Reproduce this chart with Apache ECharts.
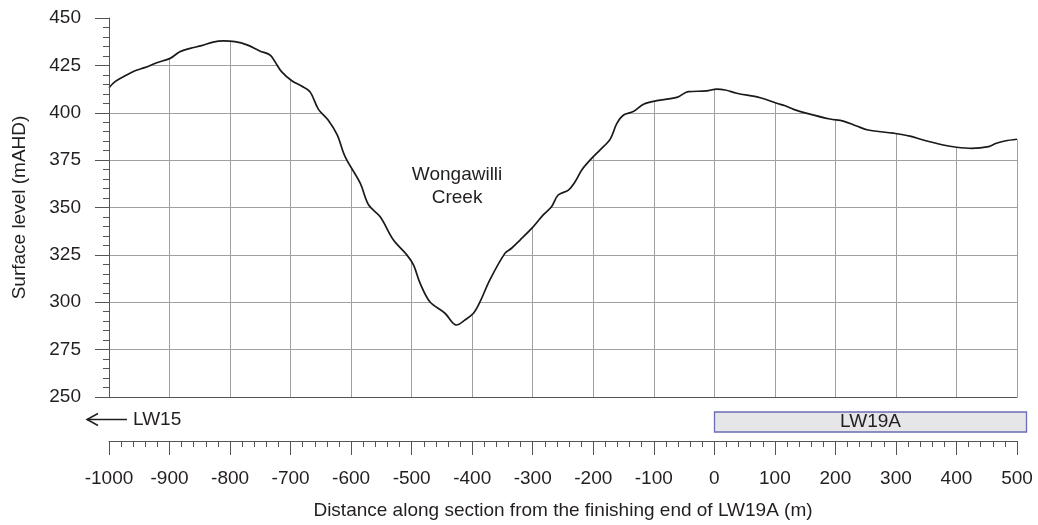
<!DOCTYPE html>
<html><head><meta charset="utf-8">
<script src="https://cdn.jsdelivr.net/npm/echarts@6/dist/echarts.min.js"></script>
<style>html,body{margin:0;padding:0;background:#fff}#c{width:1038px;height:525px}</style>
</head><body><div id="c"></div>
<script>
// Section distance (m) and surface level (mAHD)
const distance = [-1000,-990,-974,-957,-941,-921,-899,-883,-866,-847,-828,-811,-792,-772,-751,-734,-726,-715,-698,-682,-668,-654,-638,-623,-610,-585,-571,-552,-530,-508,-497,-486,-470,-445,-426,-412,-398,-387,-371,-346,-335,-321,-299,-283,-269,-258,-241,-230,-219,-205,-189,-172,-161,-150,-134,-117,-95,-62,-43,-13,4,18,37,76,103,117,131,153,191,213,235,254,296,323,345,378,400,425,453,466,480,500];
const elevation = [413.2,416.4,419.4,422.2,423.8,426.4,428.7,432.2,434,435.4,437.3,437.9,437.5,435.8,432.6,430.5,427,421.7,416.9,414.1,411.1,401.8,396.2,388.3,376.8,362.8,351.3,345.1,332.8,325,319.7,310,300.3,294.2,288,290.6,294.2,300.3,311.7,325.8,328.5,332.8,339.9,346,350.4,356.6,359.2,363.6,369.8,375.1,380.3,386.1,394.4,398.8,400.6,404.5,406.4,408.1,411.1,411.5,412.5,412,410.3,407.9,405,403.7,401.8,399.7,396.7,395.6,393,390.9,389.2,387.7,385.6,383,381.8,381.2,382.1,383.9,385.1,386];
const xRange = [-1000, 500];
const xStep = 100;
const yRange = [250, 450];
const yStep = 25;
const panelLabel = ['LW19A', 0, 515];   // name, start, end (m)
const leftLabel = 'LW15';
const creekLabel = ['Wongawilli\nCreek', -425, 361];

const FONT = "'Liberation Sans', Arial, Helvetica, sans-serif";
const FS = 19;
const TXT = '#231f20';
const GRID = '#a0a0a0';
const AX = '#555';

const chart = echarts.init(document.getElementById('c'));
const pts = distance.map((d, i) => [d, elevation[i]]);
const lastPt = pts[pts.length - 1];

chart.setOption({
  animation: false,
  backgroundColor: '#fff',
  textStyle: { fontFamily: FONT },
  grid: [
    { left: 109, right: 21, top: 18, height: 379 },
    { left: 109, right: 21, top: 440, height: 1 }
  ],
  xAxis: [
    { type: 'value', gridIndex: 0, min: xRange[0], max: xRange[1], interval: xStep,
      axisLine: { show: true, lineStyle: { color: AX, width: 1 } },
      axisTick: { show: false }, axisLabel: { show: false },
      splitLine: { show: true, showMaxLine: false, lineStyle: { color: GRID, width: 1 } } },
    { type: 'value', gridIndex: 1, min: xRange[0], max: xRange[1], interval: xStep, position: 'bottom',
      axisLine: { show: true, lineStyle: { color: AX, width: 1 } },
      axisTick: { show: true, length: 14, lineStyle: { color: AX } },
      minorTick: { show: true, splitNumber: 5, length: 6, lineStyle: { color: AX } },
      axisLabel: { margin: 28, fontSize: FS, color: TXT, fontFamily: FONT, formatter: v => String(v) },
      splitLine: { show: false },
      name: 'Distance along section from the finishing end of LW19A (m)',
      nameLocation: 'middle', nameGap: 60,
      nameTextStyle: { fontSize: FS, color: TXT, fontFamily: FONT } }
  ],
  yAxis: [
    { type: 'value', gridIndex: 0, min: yRange[0], max: yRange[1], interval: yStep,
      axisLine: { show: false }, axisTick: { show: false }, axisLabel: { show: false },
      splitLine: { show: true, showMaxLine: false, lineStyle: { color: GRID, width: 1 } } },
    { type: 'value', gridIndex: 0, min: yRange[0], max: yRange[1], interval: yStep, position: 'left', z: 10,
      axisLine: { show: true, lineStyle: { color: AX, width: 1 } },
      axisTick: { show: true, length: 14, lineStyle: { color: AX } },
      minorTick: { show: true, splitNumber: 5, length: 6, lineStyle: { color: AX } },
      axisLabel: { margin: 28, fontSize: FS, color: TXT, fontFamily: FONT },
      splitLine: { show: false },
      name: 'Surface level (mAHD)', nameLocation: 'middle', nameGap: 80, nameRotate: 90,
      nameTextStyle: { fontSize: FS, color: TXT, fontFamily: FONT } },
    { type: 'value', gridIndex: 1, min: 0, max: 1, show: false }
  ],
  series: [
    { type: 'line', xAxisIndex: 0, yAxisIndex: 0, data: pts, showSymbol: false, smooth: 0.35,
      lineStyle: { color: '#1a1a1a', width: 1.7 },
      areaStyle: { color: '#ffffff', opacity: 1, origin: 'end' },
      z: 3, silent: true,
      markLine: { silent: true, symbol: 'none', label: { show: false }, z: 1,
        lineStyle: { color: GRID, width: 1, type: 'solid' },
        data: [[{ coord: [xRange[1], yRange[0]] }, { coord: [xRange[1], lastPt[1]] }]] } }
  ]
});

function place() {
  const xl = Math.round(chart.convertToPixel({ xAxisIndex: 1 }, panelLabel[1])) + 0.5;
  const xr = Math.round(chart.convertToPixel({ xAxisIndex: 1 }, panelLabel[2])) + 0.5;
  const c = chart.convertToPixel({ xAxisIndex: 0, yAxisIndex: 0 }, [creekLabel[1], creekLabel[2]]);
  const x0 = chart.convertToPixel({ xAxisIndex: 0 }, xRange[0]);
  const ay = 419.5;
  chart.setOption({
    graphic: [
      { type: 'rect', z: 20, shape: { x: xl, y: 412, width: xr - xl, height: 20 },
        style: { fill: '#e6e6e8', stroke: '#6b6bb8', lineWidth: 1.3 } },
      { type: 'text', z: 21, x: (xl + xr) / 2, y: 422,
        style: { text: panelLabel[0], fill: TXT, font: FS + 'px ' + FONT, textAlign: 'center', textVerticalAlign: 'middle' } },
      { type: 'line', z: 20, shape: { x1: x0 - 22, y1: ay, x2: x0 + 18, y2: ay },
        style: { stroke: '#231f20', lineWidth: 1.5 } },
      { type: 'polyline', z: 20, shape: { points: [[x0 - 11, ay - 6], [x0 - 22, ay], [x0 - 11, ay + 6]] },
        style: { stroke: '#231f20', lineWidth: 1.5, fill: null } },
      { type: 'text', z: 21, x: x0 + 24, y: ay,
        style: { text: leftLabel, fill: TXT, font: FS + 'px ' + FONT, textAlign: 'left', textVerticalAlign: 'middle' } },
      { type: 'text', z: 21, x: c[0], y: c[1],
        style: { text: creekLabel[0], fill: TXT, font: FS + 'px ' + FONT, textAlign: 'center', textVerticalAlign: 'middle', lineHeight: 23 } }
    ]
  });
}
place();
</script>
</body></html>
